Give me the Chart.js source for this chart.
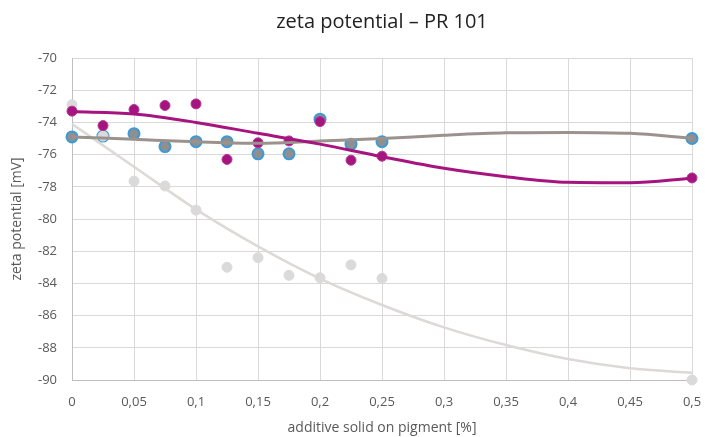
<!DOCTYPE html>
<html>
<head>
<meta charset="utf-8">
<script src="https://cdn.jsdelivr.net/npm/chart.js@4/dist/chart.umd.min.js"></script>
<style>
  html, body { margin: 0; padding: 0; background: #fff; }
  #wrap { width: 705px; height: 437px; }
</style>
</head>
<body>
<div id="wrap"><canvas id="grafico" width="705" height="437"></canvas></div>
<script>
// measured points (x = additive solid on pigment in %)
const xPuntos = [0, 0.025, 0.05, 0.075, 0.1, 0.125, 0.15, 0.175, 0.2, 0.225, 0.25, 0.5];
const serieAzul = [-74.9, -74.85, -74.7, -75.5, -75.2, -75.2, -75.95, -75.95, -73.8, -75.35, -75.2, -75.0];
const serieMorada = [-73.3, -74.2, -73.2, -72.95, -72.85, -76.3, -75.27, -75.15, -73.95, -76.35, -76.1, -77.45];
const serieGris = [-72.9, -74.85, -77.65, -77.95, -79.45, -83.0, -82.4, -83.5, -83.65, -82.85, -83.7, -90.0];

// trend lines
const xTendencia = [0, 0.05, 0.1, 0.15, 0.2, 0.25, 0.3, 0.35, 0.4, 0.45, 0.5];
const tendAzul = [-74.9, -75.05, -75.2, -75.3, -75.15, -75.0, -74.8, -74.65, -74.62, -74.68, -74.98];
const tendMorada = [-73.33, -73.48, -74.0, -74.68, -75.35, -76.13, -76.85, -77.37, -77.72, -77.75, -77.47];
const tendGris = [-74.1, -76.75, -79.4, -81.7, -83.7, -85.34, -86.73, -87.83, -88.7, -89.27, -89.55];

const TEXTO = '#595959';
const GRILLA = '#d9d9d9';

const puntos = (xs, ys) => xs.map((x, i) => ({ x, y: ys[i] }));

const linea = (ys, color, ancho) => ({
  type: 'line',
  data: puntos(xTendencia, ys),
  borderColor: color,
  borderWidth: ancho,
  pointRadius: 0,
  fill: false,
  clip: false,
  cubicInterpolationMode: 'monotone'
});

const marcas = (ys, fondo, borde, radio, anchoBorde) => ({
  type: 'scatter',
  data: puntos(xPuntos, ys),
  backgroundColor: fondo,
  borderColor: borde,
  borderWidth: anchoBorde,
  pointRadius: radio,
  clip: false
});

new Chart(document.getElementById('grafico').getContext('2d'), {
  type: 'scatter',
  data: {
    datasets: [
      // first datasets are drawn on top
      linea(tendMorada, '#a5147f', 3),
      linea(tendAzul, '#9b928d', 3),
      linea(tendGris, '#dcd9d6', 2.5),
      marcas(serieMorada, '#a5147f', '#b33a92', 5, 1),
      marcas(serieGris, '#dadada', '#dadada', 5, 1),
      marcas(serieAzul, '#8f8f8f', '#3d9ad6', 5.5, 2)
    ]
  },
  options: {
    responsive: false,
    animation: false,
    layout: { padding: { left: 0, right: 13, top: 0, bottom: 0 } },
    plugins: {
      legend: { display: false },
      tooltip: { enabled: false },
      title: {
        display: true,
        text: 'zeta potential – PR 101',
        fullSize: false,
        color: '#222',
        font: { family: 'Open Sans', size: 20, weight: 'normal' },
        padding: { top: 10, bottom: 24 }
      }
    },
    scales: {
      x: {
        type: 'linear',
        min: 0,
        max: 0.5,
        afterFit: s => { s.height = 57; s.paddingRight = 0; s.paddingLeft = 0; },
        grid: { color: GRILLA, lineWidth: 1, drawTicks: false },
        border: { color: '#bfbfbf', width: 1 },
        ticks: {
          stepSize: 0.05,
          padding: 14,
          color: TEXTO,
          font: { family: 'Open Sans', size: 13 },
          callback: v => Number(v.toFixed(2)).toString().replace('.', ',')
        },
        title: {
          display: true,
          text: 'additive solid on pigment [%]',
          color: TEXTO,
          font: { family: 'Open Sans', size: 14 },
          padding: { top: 0, bottom: 1 }
        }
      },
      y: {
        min: -90,
        max: -70,
        afterFit: s => { s.width = 72; s.paddingTop = 0; s.paddingBottom = 0; },
        grid: { color: GRILLA, lineWidth: 1, drawTicks: false },
        border: { color: '#bfbfbf', width: 1 },
        ticks: {
          stepSize: 2,
          padding: 15,
          color: TEXTO,
          font: { family: 'Open Sans', size: 13 }
        },
        title: {
          display: true,
          text: 'zeta potential [mV]',
          color: TEXTO,
          font: { family: 'Open Sans', size: 14 },
          padding: { top: 9, bottom: 0 }
        }
      }
    }
  }
});
</script>
</body>
</html>
